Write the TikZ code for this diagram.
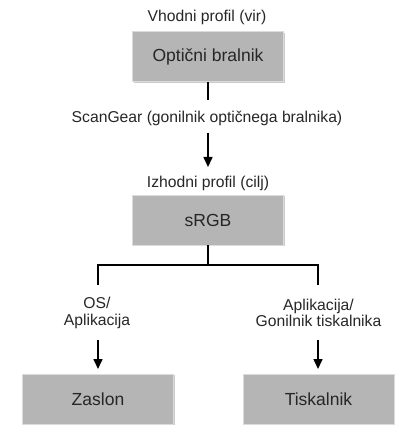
\documentclass[tikz,border=0pt]{standalone}
\usepackage{fontspec}
\setmainfont{Liberation Sans}
\usetikzlibrary{arrows.meta,shadows}

\begin{document}
\begin{tikzpicture}[x=1pt,y=-1pt,
  box/.style={fill=black!29,draw=black!14,line width=0.8pt,minimum width=151pt,minimum height=50pt,
    font=\fontsize{17.5}{20}\selectfont,text=black!85,
    drop shadow={shadow xshift=1.2pt,shadow yshift=-1.2pt,opacity=0.35,fill=black!60}},
  lbl/.style={font=\fontsize{15.7}{16.5}\selectfont,align=center,inner sep=0pt,text=black!85},
  conn/.style={draw=black,line width=1.6pt},
  arr/.style={draw=black,line width=1.6pt,-{Triangle[width=9pt,length=10pt]}}]
\useasboundingbox (0,0) rectangle (416,446);
%scanner:
\node[lbl] (vir) at (207,17) {Vhodni profil (vir)};
\node[box] (scanner) at (208,56.5) {Optični bralnik};
\node[lbl] (scangear) at (207,118) {ScanGear (gonilnik optičnega bralnika)};
\coordinate (s1) at (208,100);
\draw[conn] (scanner.south) -- (s1);
\coordinate (a1) at (208,133);
\coordinate (a2) at (208,167);
\draw[arr] (a1) -- (a2);
%srgb:
\node[lbl] (cilj) at (208,183) {Izhodni profil (cilj)};
\node[box] (srgb) at (208,220) {sRGB};
%split:
\coordinate (split) at (208,265);
\coordinate (l1) at (98,285);
\coordinate (r1) at (318,285);
\draw[conn] (srgb.south) -- (split);
\draw[conn] (l1) |- (split) -| (r1);
%outputs:
\node[lbl] (os) at (97,313) {OS/\\Aplikacija};
\node[lbl] (gon) at (318.5,313) {Aplikacija/\\Gonilnik tiskalnika};
\coordinate (l2) at (98,340);
\coordinate (l3) at (98,369);
\coordinate (r2) at (318,340);
\coordinate (r3) at (318,369);
\draw[arr] (l2) -- (l3);
\draw[arr] (r2) -- (r3);
\node[box] (zaslon) at (98,399) {Zaslon};
\node[box] (tisk) at (318.5,399) {Tiskalnik};
\end{tikzpicture}
\end{document}
